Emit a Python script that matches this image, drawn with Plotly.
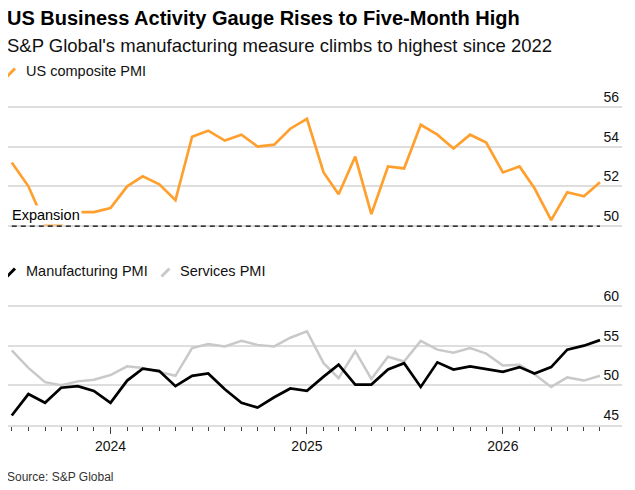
import pandas as pd
import plotly.graph_objects as go

# monthly readings, Jul 2023 - Jul 2026
months = pd.date_range("2023-07-01", periods=37, freq="MS")

composite_pmi = [53.2, 52.0, 50.1, 50.1, 50.7, 50.7, 50.9, 52.0, 52.5, 52.1,
                 51.3, 54.5, 54.8, 54.3, 54.6, 54.0, 54.1, 54.9, 55.4, 52.7,
                 51.6, 53.5, 50.6, 53.0, 52.9, 55.1, 54.6, 53.9, 54.6, 54.2,
                 52.7, 53.0, 51.9, 50.3, 51.7, 51.5, 52.2]

manufacturing_pmi = [46.2, 48.9, 47.8, 49.7, 49.9, 49.3, 47.8, 50.6, 52.1, 51.8,
                     49.9, 51.2, 51.5, 49.5, 47.8, 47.2, 48.5, 49.6, 49.3, 51.1,
                     52.6, 50.1, 50.1, 52.0, 52.8, 49.8, 52.9, 52.0, 52.4, 52.1,
                     51.7, 52.3, 51.5, 52.3, 54.5, 55.0, 55.7]

services_pmi = [54.4, 52.2, 50.4, 50.0, 50.5, 50.7, 51.3, 52.4, 52.2, 51.7,
                51.2, 54.7, 55.2, 54.9, 55.6, 55.1, 54.9, 56.0, 56.8, 52.8,
                50.9, 54.3, 50.8, 53.6, 53.0, 55.6, 54.5, 54.1, 54.7, 54.0,
                52.5, 52.6, 51.4, 49.8, 51.0, 50.6, 51.2]

composite_ticks = [50, 52, 54, 56]
sector_ticks = [45, 50, 55, 60]

ORANGE = "#ffa02e"
GREY_LINE = "#c9c9c9"
GRID = "#dedede"
FONT = "Liberation Sans"

# the page puts the figure 8px in from the top-left corner, so margins
# are set against that; positions below are page pixels
OFF = 8
TOP, BOTTOM = 87, 425
LEFT, RIGHT = OFF, 622
def py(pix):
    return (BOTTOM - pix) / (BOTTOM - TOP)
def px(pix):
    return (pix - LEFT) / (RIGHT - LEFT)


def add_key(fig, label, color, x_pix, y_pix):
    # short slash + label, in place of a legend entry
    fig.add_shape(type="line", xref="paper", yref="paper",
                  x0=px(x_pix), y0=py(y_pix + 4.5),
                  x1=px(x_pix + 8), y1=py(y_pix - 3.5),
                  line=dict(color=color, width=3))
    fig.add_annotation(text=label, xref="paper", yref="paper",
                       x=px(x_pix + 16.5), y=py(y_pix - 1),
                       xanchor="left", yanchor="middle", showarrow=False,
                       font=dict(size=14.5, color="#111111"))


def build_figure():
    fig = go.Figure()

    fig.add_trace(go.Scatter(x=months, y=composite_pmi, mode="lines",
                             name="US composite PMI",
                             line=dict(color=ORANGE, width=2.7),
                             xaxis="x", yaxis="y"))
    fig.add_trace(go.Scatter(x=months, y=services_pmi, mode="lines",
                             name="Services PMI",
                             line=dict(color=GREY_LINE, width=2.5),
                             xaxis="x2", yaxis="y2"))
    fig.add_trace(go.Scatter(x=months, y=manufacturing_pmi, mode="lines",
                             name="Manufacturing PMI",
                             line=dict(color="#000000", width=2.7),
                             xaxis="x2", yaxis="y2"))

    x_range = ["2023-06-24", "2026-08-11"]

    fig.add_shape(type="line", xref="x", yref="y",
                  x0=months[0], x1=months[-1], y0=50, y1=50,
                  line=dict(color="#000000", width=1.2, dash="5px,4px"))

    fig.update_layout(
        width=635, height=490, showlegend=False,
        margin=dict(l=LEFT - OFF, r=635 - (RIGHT - OFF), t=TOP - OFF,
                    b=490 - (BOTTOM - OFF), autoexpand=False),
        paper_bgcolor="white", plot_bgcolor="white",
        font=dict(family=FONT, size=13, color="#111111"),
        xaxis=dict(domain=[0, 1], range=x_range, visible=False,
                   anchor="y"),
        yaxis=dict(domain=[py(232), 1], range=[49.7, 57.0], side="right",
                   tickvals=composite_ticks, ticklabelposition="inside top",
                   showgrid=True, gridcolor=GRID, gridwidth=1.5,
                   zeroline=False, showline=False, ticks="",
                   tickfont=dict(size=14, color="#111111"), anchor="x"),
        xaxis2=dict(domain=[0, 1], range=x_range, anchor="y2",
                    tick0="2024-01-01", dtick="M12", tickformat="%Y",
                    ticks="outside", ticklen=7, tickcolor="#444444",
                    tickwidth=1, showgrid=False, showline=True,
                    linecolor=GRID, linewidth=1.5, zeroline=False,
                    tickfont=dict(size=14, color="#111111"),
                    minor=dict(dtick="M1", tick0="2023-07-01", ticks="outside",
                               ticklen=4, tickcolor="#444444", tickwidth=1,
                               showgrid=False)),
        yaxis2=dict(domain=[0, py(283.8)], range=[45, 62.8], side="right",
                    tickvals=sector_ticks, ticklabelposition="inside top",
                    showgrid=True, gridcolor=GRID, gridwidth=1.5,
                    zeroline=False, showline=False, ticks="",
                    tickfont=dict(size=14, color="#111111"), anchor="x2"),
    )

    add_key(fig, "US composite PMI", ORANGE, 7, 72)
    add_key(fig, "Manufacturing PMI", "#000000", 7, 272)
    add_key(fig, "Services PMI", GREY_LINE, 161.5, 272)

    fig.add_annotation(text="<b>US Business Activity Gauge Rises to Five-Month High</b>",
                       xref="paper", yref="paper", x=px(5), y=py(18),
                       xanchor="left", yanchor="middle", showarrow=False,
                       font=dict(size=20, color="#000000"))
    fig.add_annotation(text="S&P Global's manufacturing measure climbs to highest since 2022",
                       xref="paper", yref="paper", x=px(5), y=py(45),
                       xanchor="left", yanchor="middle", showarrow=False,
                       font=dict(size=18.5, color="#111111"))
    fig.add_annotation(text="Expansion", xref="x", yref="y",
                       x=months[0], y=50, xanchor="left", yanchor="bottom",
                       xshift=-2, yshift=1, showarrow=False, bgcolor="white",
                       font=dict(size=14.5, color="#000000"))
    fig.add_annotation(text="Source: S&P Global", xref="paper", yref="paper",
                       x=px(5), y=py(477), xanchor="left", yanchor="middle",
                       showarrow=False, font=dict(size=12, color="#333333"))
    return fig


if __name__ == '__main__':
    fig = build_figure()
    fig.write_html("out.html")
